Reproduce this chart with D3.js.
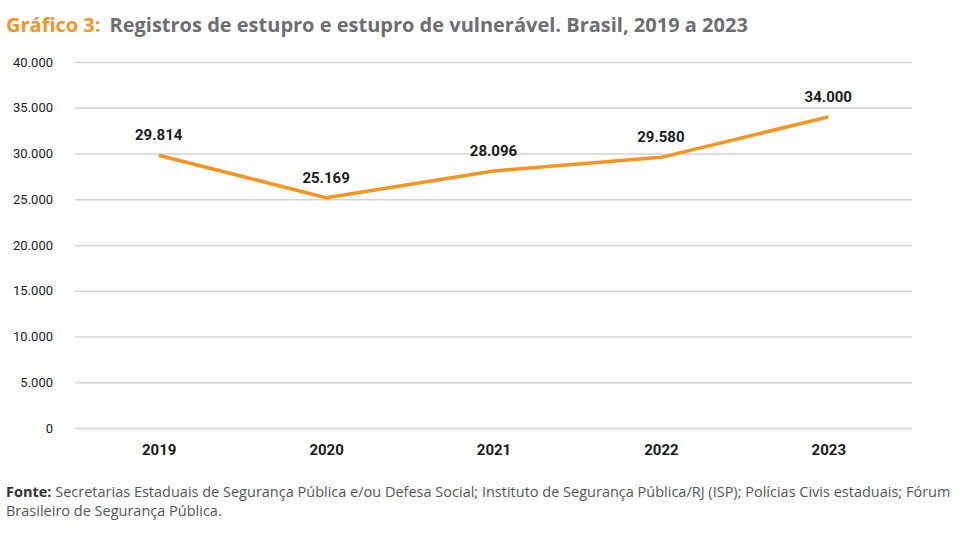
<!DOCTYPE html>
<html>
<head>
<meta charset="utf-8">
<script src="https://cdn.jsdelivr.net/npm/d3@7"></script>
<style>
  body { margin: 0; background: #fff; }
  svg text { font-family: "Liberation Sans Narrow", "Roboto", "Liberation Sans", sans-serif; }
</style>
</head>
<body>
<svg id="chart" width="960" height="540"></svg>
<script>
var years = ["2019", "2020", "2021", "2022", "2023"];
var registros = [29814, 25169, 28096, 29580, 34000];
var yTicks = [0, 5000, 10000, 15000, 20000, 25000, 30000, 35000, 40000];

var svg = d3.select("svg#chart");
var fmt = function(v){ return d3.format(",")(v).replace(/,/g, "."); };

var x = d3.scalePoint()
  .domain(years)
  .range([75, 912])
  .padding(0.5);

var y = d3.scaleLinear()
  .domain([0, 40000])
  .range([428, 62]);

// title
var title = svg.append("text")
  .attr("x", 6)
  .attr("y", 32)
  .style("font-family", "'Open Sans', 'Liberation Sans', sans-serif")
  .style("font-size", "20px")
  .style("font-weight", "bold");
title.append("tspan").attr("fill", "#f7941d").text("Gráfico 3:");
title.append("tspan").attr("fill", "#6d6e71").attr("dx", 9)
  .text("Registros de estupro e estupro de vulnerável. Brasil, 2019 a 2023");

// grid + y labels
var yAxis = d3.axisLeft(y)
  .tickValues(yTicks)
  .tickSize(-(912 - 75))
  .tickPadding(22)
  .tickFormat(fmt);

var gy = svg.append("g")
  .attr("transform", "translate(75,0)")
  .call(yAxis);
gy.select(".domain").remove();
gy.selectAll(".tick line")
  .attr("stroke", "#d3d3d3")
  .attr("stroke-width", 1.5);
gy.selectAll(".tick text")
  .attr("fill", "#222")
  .style("font-size", "13px");

// x labels
var xAxis = d3.axisBottom(x).tickSize(0).tickPadding(16);
var gx = svg.append("g")
  .attr("transform", "translate(0,428)")
  .call(xAxis);
gx.select(".domain").remove();
gx.selectAll(".tick text")
  .attr("fill", "#1a1a1a")
  .style("font-size", "15px")
  .style("font-weight", "bold");

// line
var line = d3.line()
  .x(function(d, i){ return x(years[i]); })
  .y(function(d){ return y(d); });

svg.append("path")
  .datum(registros)
  .attr("d", line)
  .attr("fill", "none")
  .attr("stroke", "#f7941d")
  .attr("stroke-width", 3.5)
  .attr("stroke-linejoin", "round");

// value labels
svg.selectAll("text.val")
  .data(registros)
  .enter().append("text")
  .attr("class", "val")
  .attr("x", function(d, i){ return x(years[i]); })
  .attr("y", function(d){ return y(d) - 15; })
  .attr("text-anchor", "middle")
  .attr("fill", "#1a1a1a")
  .style("font-size", "15px")
  .style("font-weight", "bold")
  .text(fmt);

// source
var src = svg.append("text")
  .attr("x", 6)
  .attr("y", 497)
  .attr("fill", "#555")
  .style("font-family", "'Open Sans', 'Liberation Sans', sans-serif")
  .style("font-size", "14.5px");
src.append("tspan").attr("font-weight", "bold").attr("fill", "#333").text("Fonte:");
src.append("tspan").text(" Secretarias Estaduais de Segurança Pública e/ou Defesa Social; Instituto de Segurança Pública/RJ (ISP); Polícias Civis estaduais; Fórum");
svg.append("text")
  .attr("x", 6)
  .attr("y", 516)
  .attr("fill", "#555")
  .style("font-family", "'Open Sans', 'Liberation Sans', sans-serif")
  .style("font-size", "14.5px")
  .text("Brasileiro de Segurança Pública.");
</script>
</body>
</html>
